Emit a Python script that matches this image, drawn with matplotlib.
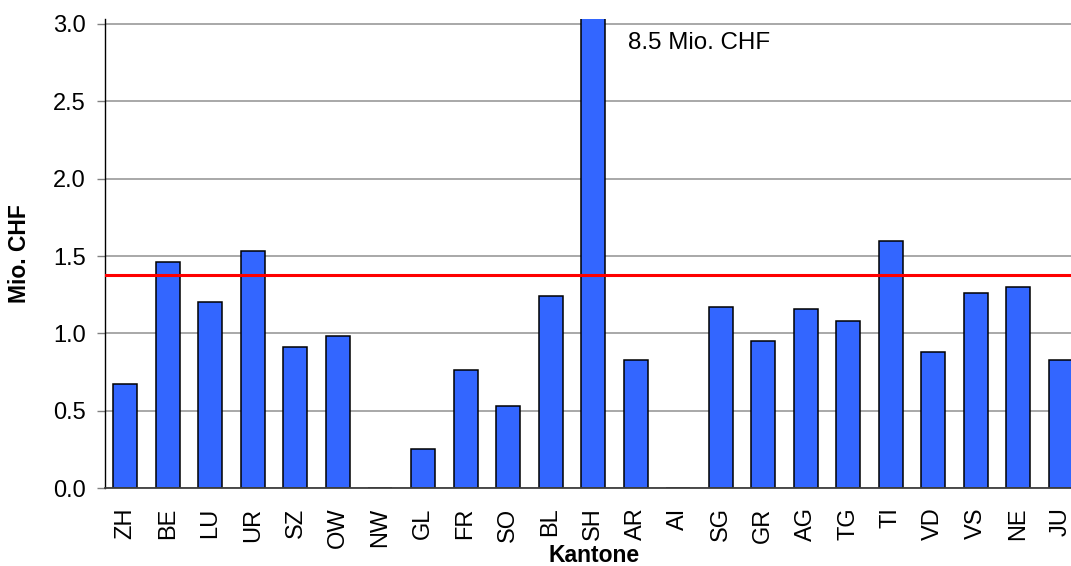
import matplotlib
matplotlib.use("Agg")
import matplotlib.pyplot as plt

plt.rcParams['font.family'] = ['Liberation Sans', 'DejaVu Sans']

kantone = ["ZH", "BE", "LU", "UR", "SZ", "OW", "NW", "GL", "FR", "SO", "BL", "SH",
           "AR", "AI", "SG", "GR", "AG", "TG", "TI", "VD", "VS", "NE", "JU"]
werte = [0.67, 1.46, 1.20, 1.53, 0.91, 0.98, 0.0, 0.25, 0.76, 0.53, 1.24, 8.5,
         0.83, 0.0, 1.17, 0.95, 1.16, 1.08, 1.60, 0.88, 1.26, 1.30, 0.83]
mittel = 1.38
yticks = [0.0, 0.5, 1.0, 1.5, 2.0, 2.5, 3.0]

fig = plt.figure(figsize=(10.71, 5.66), dpi=100)
ax = fig.add_axes([0.098, 0.1378, 0.902, 0.828])

x = list(range(len(kantone)))
ax.bar(x, werte, width=0.565, color="#3366FF", edgecolor="black", linewidth=1.1, zorder=2)
ax.axhline(mittel, color="#FF0000", linewidth=2.2, zorder=4)

ax.set_xlim(-0.48, 22.24)
ax.set_ylim(0, 3.03)
ax.set_yticks(yticks)
ax.set_yticklabels(["%.1f" % v for v in yticks])
ax.set_xticks(x)
ax.set_xticklabels(kantone, rotation=90)

ax.yaxis.grid(True, color="#999999", linewidth=1.2)
ax.set_axisbelow(True)

for s in ["top", "right"]:
    ax.spines[s].set_visible(False)
ax.spines["left"].set_color("black")
ax.spines["left"].set_linewidth(1.0)
ax.spines["bottom"].set_color("#404040")
ax.spines["bottom"].set_linewidth(1.3)
ax.spines["bottom"].set_zorder(3)

ax.tick_params(axis="y", length=6, width=1.0, color="#808080", pad=8, labelsize=17)
ax.tick_params(axis="x", length=0, pad=14, labelsize=17)

ax.set_xlabel("Kantone", fontsize=16.5, fontweight="bold")
ax.xaxis.set_label_coords(0.506, -0.119)
ax.set_ylabel("Mio. CHF", fontsize=16.5, fontweight="bold")
ax.yaxis.set_label_coords(-0.077, 0.5)

ax.text(11.83, 2.88, "8.5 Mio. CHF", ha="left", va="center", fontsize=17.4)

fig.savefig("out.png", dpi=100)
